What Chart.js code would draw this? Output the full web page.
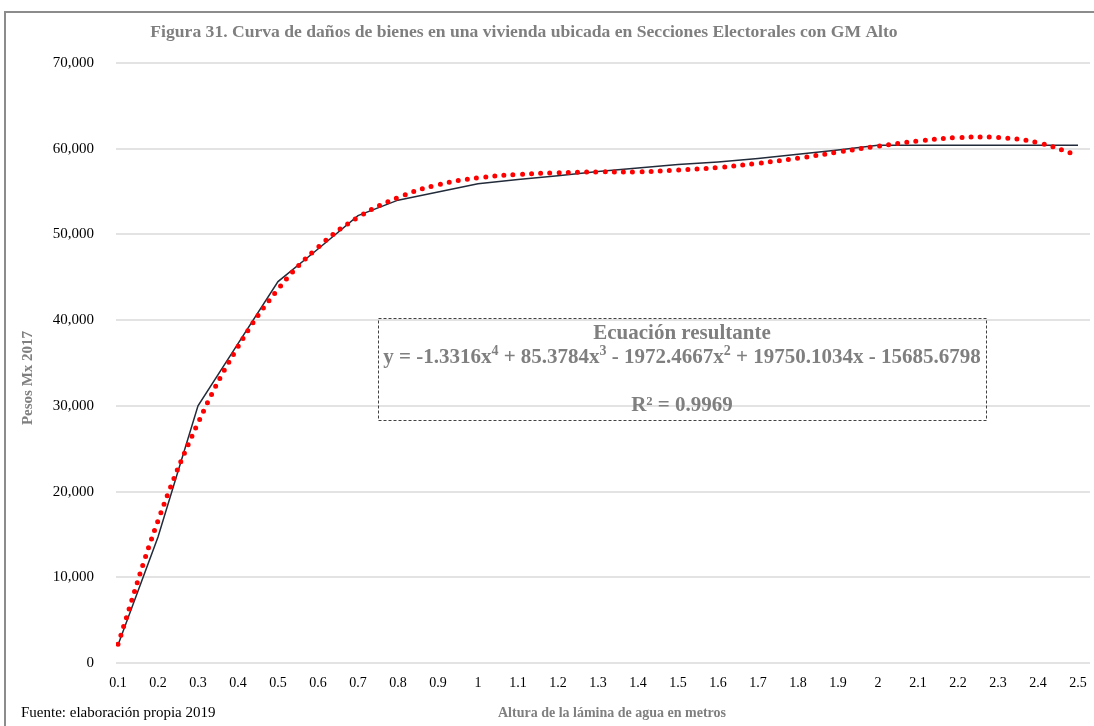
<!DOCTYPE html>
<html>
<head>
<meta charset="utf-8">
<script src="https://cdn.jsdelivr.net/npm/chart.js@4.4.1/dist/chart.umd.min.js"></script>
<style>
    body { margin: 0; background: #fff; }
    canvas { display: block; }
</style>
</head>
<body>
<canvas id="damageChart" width="1094" height="726"></canvas>
<script>
// alturas de la lámina de agua (m)
const xLabels = [0.1, 0.2, 0.3, 0.4, 0.5, 0.6, 0.7, 0.8, 0.9, 1.0, 1.1, 1.2, 1.3,
    1.4, 1.5, 1.6, 1.7, 1.8, 1.9, 2.0, 2.1, 2.2, 2.3, 2.4, 2.5];
// daños (pesos Mx 2017)
const damageValues = [2100, 14700, 30000, 37250, 44500, 48300, 52200, 54000, 54950, 55900,
    56400, 56850, 57350, 57750, 58150, 58450, 58850, 59350, 59850, 60400,
    60400, 60400, 60400, 60400, 60400];
// línea de tendencia polinómica
const trendValues = [2200, 16600, 28000, 36900, 43600, 48500, 52000, 54300, 55800, 56600,
    57000, 57200, 57300, 57300, 57500, 57800, 58300, 58900, 59600, 60300,
    60900, 61300, 61300, 60700, 59200];
const yTicks = [0, 10000, 20000, 30000, 40000, 50000, 60000, 70000];

const titleText = 'Figura 31. Curva de daños de bienes en una vivienda ubicada en Secciones Electorales con GM Alto';
const grayText = '#7f7f7f';
const serif = '"Liberation Serif", "Times New Roman", serif';

const toPoints = values => values.map((v, i) => ({ x: xLabels[i], y: v }));

const decorations = {
    id: 'decorations',
    afterDraw(chart) {
        const ctx = chart.ctx;
        ctx.save();

        // marco exterior
        ctx.strokeStyle = '#8c8c8c';
        ctx.lineWidth = 2;
        ctx.strokeRect(5, 12, 1100, 730);

        // título
        ctx.fillStyle = grayText;
        ctx.font = 'bold 17.6px ' + serif;
        ctx.textAlign = 'center';
        ctx.textBaseline = 'middle';
        ctx.fillText(titleText, 524, 32);

        // título eje y
        ctx.save();
        ctx.translate(28, 378);
        ctx.rotate(-Math.PI / 2);
        ctx.font = 'bold 15px ' + serif;
        ctx.fillText('Pesos Mx 2017', 0, 0);
        ctx.restore();

        // título eje x
        ctx.font = 'bold 14px ' + serif;
        ctx.fillText('Altura de la lámina de agua en metros', 612, 713);

        // fuente
        ctx.fillStyle = '#000';
        ctx.font = '15px ' + serif;
        ctx.textAlign = 'left';
        ctx.fillText('Fuente: elaboración propia 2019', 21, 713);

        // recuadro de la ecuación
        ctx.strokeStyle = '#404040';
        ctx.lineWidth = 1;
        ctx.setLineDash([3, 2]);
        ctx.strokeRect(378.5, 318.5, 608, 102);
        ctx.setLineDash([]);

        ctx.fillStyle = grayText;
        ctx.textAlign = 'center';
        ctx.font = 'bold 21px ' + serif;
        ctx.fillText('Ecuación resultante', 682, 334);

        const parts = [
            ['y = -1.3316x', false], ['4', true], [' + 85.3784x', false], ['3', true],
            [' - 1972.4667x', false], ['2', true], [' + 19750.1034x - 15685.6798', false]
        ];
        const baseFont = 'bold 21px ' + serif;
        const supFont = 'bold 14px ' + serif;
        let total = 0;
        parts.forEach(p => {
            ctx.font = p[1] ? supFont : baseFont;
            total += ctx.measureText(p[0]).width;
        });
        let x = 682 - total / 2;
        ctx.textAlign = 'left';
        parts.forEach(p => {
            ctx.font = p[1] ? supFont : baseFont;
            ctx.fillText(p[0], x, p[1] ? 351 : 358);
            x += ctx.measureText(p[0]).width;
        });

        ctx.textAlign = 'center';
        ctx.font = baseFont;
        ctx.fillText('R² = 0.9969', 682, 406);

        ctx.restore();
    }
};

new Chart(document.getElementById('damageChart'), {
    type: 'line',
    data: {
        datasets: [{
            label: 'Polinómica',
            data: toPoints(trendValues),
            borderColor: '#ff0000',
            borderWidth: 5,
            borderDash: [0, 9.2],
            borderCapStyle: 'round',
            tension: 0.4,
            pointRadius: 0,
            order: 0
        }, {
            label: 'Daños',
            data: toPoints(damageValues),
            borderColor: '#222b3a',
            borderWidth: 1.5,
            tension: 0,
            pointRadius: 0,
            order: 1
        }]
    },
    options: {
        responsive: false,
        animation: false,
        layout: { padding: { top: 63, right: 4, left: 0, bottom: 0 } },
        plugins: {
            legend: { display: false },
            tooltip: { enabled: false }
        },
        scales: {
            x: {
                type: 'linear',
                min: 0.095,
                max: 2.53,
                afterBuildTicks: scale => {
                    scale.ticks = xLabels.map(v => ({ value: v }));
                },
                afterFit: scale => { scale.height = 63; },
                ticks: {
                    autoSkip: false,
                    maxRotation: 0,
                    padding: 4,
                    color: '#000',
                    font: { family: serif, size: 14 },
                    callback: v => String(Math.round(v * 10) / 10)
                },
                grid: { display: false },
                border: { display: false }
            },
            y: {
                min: 0,
                max: 70000,
                afterBuildTicks: scale => {
                    scale.ticks = yTicks.map(v => ({ value: v }));
                },
                afterFit: scale => { scale.width = 116; },
                ticks: {
                    padding: 22,
                    color: '#000',
                    font: { family: serif, size: 15 },
                    callback: v => v.toLocaleString('en-US')
                },
                grid: { color: '#e3e3e3', lineWidth: 2, drawTicks: false },
                border: { display: false }
            }
        }
    },
    plugins: [decorations]
});
</script>
</body>
</html>
